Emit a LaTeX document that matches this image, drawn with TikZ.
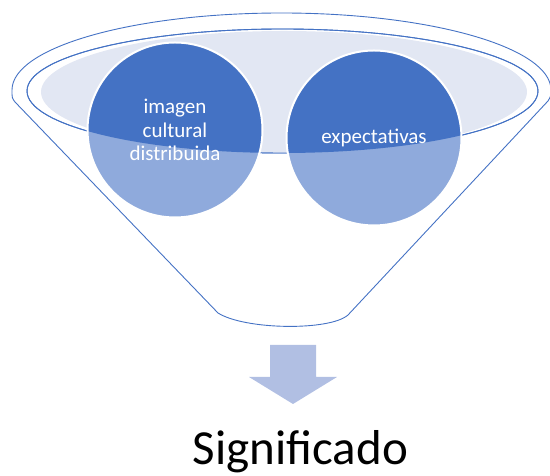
\documentclass[tikz,border=0pt]{standalone}
\usepackage{fontspec}
\setmainfont{Carlito}
\usepackage{tikz}

\definecolor{funnelblue}{RGB}{68,114,196}
\definecolor{lowblue}{RGB}{143,170,220}
\definecolor{rimfill}{RGB}{226,231,243}
\definecolor{arrowblue}{RGB}{177,191,227}

\begin{document}
\begin{tikzpicture} [x=1pt,y=1pt,
		rim/.style={draw=funnelblue,line width=0.9pt},
		bubble/.style={circle,draw=white,line width=2pt,minimum size=175pt,inner sep=0pt,align=center,text=white,font=\fontsize{21}{23.5}\selectfont}]
				\useasboundingbox (0,0) rectangle (550,476);
				
				% funnel body
				\draw[rim] (218,163) -- (15,374) .. controls (12,378) .. (12,386)
					arc[start angle=180,end angle=0,x radius=269.5,y radius=77]
					.. controls (551,380) .. (548,375) -- (348,161)
					.. controls (330,145) and (245,146) .. (218,163) -- cycle;
				\draw[rim] (282.5,385) ellipse [x radius=255.5,y radius=62];
				\fill[rimfill] (284,384) ellipse [x radius=243,y radius=61];
				\draw[rim] (282.5,385) ellipse [x radius=255.5,y radius=62];
				
				\coordinate (l) at (175,346);
				\coordinate (r) at (374,338);
				\fill[lowblue] (l) circle (87.5) (r) circle (87.5);
				\begin{scope}
					\clip (282.5,385) ellipse [x radius=255.5,y radius=62];
					\fill[funnelblue] (l) circle (87.5) (r) circle (87.5);
				\end{scope}
				\node[bubble] (imagen) at (l) {imagen\\cultural\\distribuida};
				\node[bubble] (expect) at (r) {expectativas};
				
				% arrow and result
				\fill[arrowblue] (270,131) -- (316,131) -- (316,99) -- (337,99) -- (293,72)
					-- (249,99) -- (270,99) -- cycle;
				\node[anchor=base,font=\fontsize{49}{58}\selectfont] (signif) at (300.5,11) {Significado};
\end{tikzpicture}
\end{document}
